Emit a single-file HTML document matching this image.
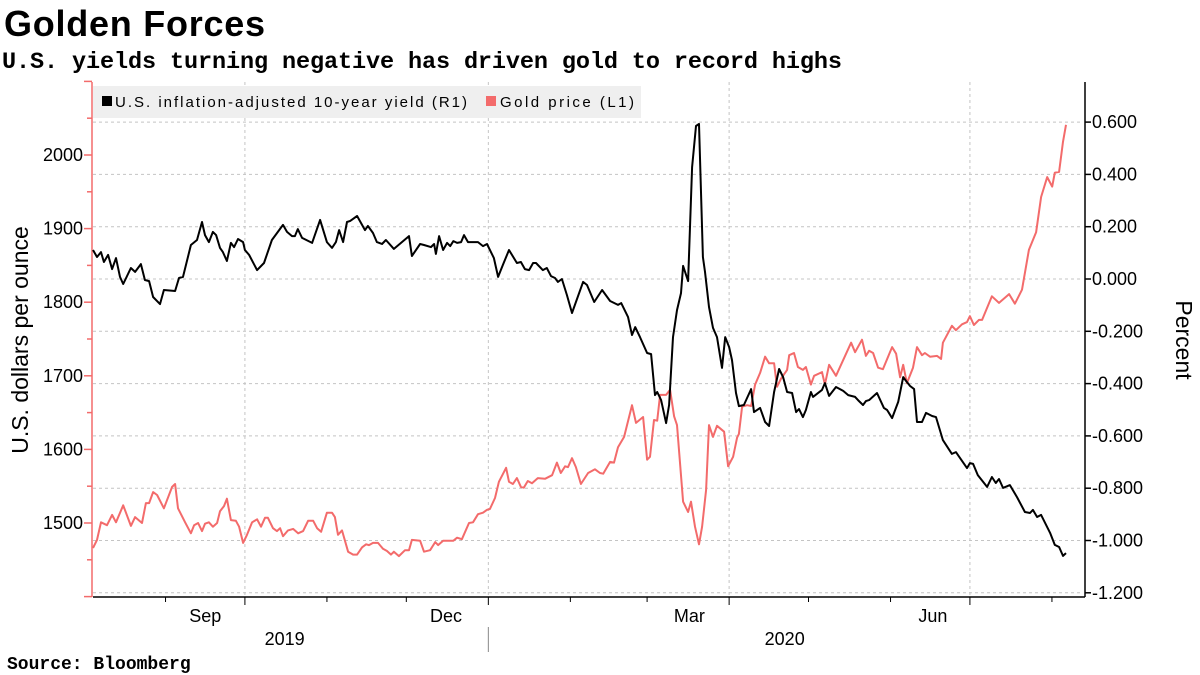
<!DOCTYPE html>
<html><head><meta charset="utf-8"><style>
body{margin:0;background:#fff;width:1200px;height:675px;overflow:hidden;font-family:"Liberation Sans",sans-serif}
svg{position:absolute;left:0;top:0}
</style></head><body>
<svg id="chart" width="1200" height="675" viewBox="0 0 1200 675">
<text x="4" y="36" font-family="Liberation Sans" font-weight="bold" font-size="36" textLength="261" fill="#000">Golden Forces</text>
<text x="2" y="68" font-family="Liberation Mono,monospace" font-weight="bold" font-size="23.5" textLength="840" fill="#000">U.S. yields turning negative has driven gold to record highs</text>
<text x="7" y="669" font-family="Liberation Mono,monospace" font-weight="bold" font-size="18" fill="#000">Source: Bloomberg</text>
<g id="grid"></g><g id="axes"></g><g id="series"></g>
<g>
<rect x="93" y="86" width="548" height="32" fill="#efefef"/>
<rect x="102" y="96" width="10" height="10" fill="#000"/>
<text x="115" y="107" font-size="15" textLength="352" fill="#000">U.S. inflation-adjusted 10-year yield (R1)</text>
<rect x="486" y="96" width="10" height="10" fill="#f36b6b"/>
<text x="500" y="107" font-size="15" textLength="134" fill="#000">Gold price  (L1)</text>
</g>
<text transform="translate(28,340) rotate(-90)" text-anchor="middle" font-size="23" fill="#000">U.S. dollars per ounce</text>
<text transform="translate(1176,340) rotate(90)" text-anchor="middle" font-size="23" fill="#000">Percent</text>
</svg>
<script>
const yieldDays=[3.6,5.1,6.6,7.7,9.3,10.8,12.3,13.8,15,17.9,19.5,21.7,23.2,24.8,26.3,28.9,30.4,34.6,36.1,37.6,40.6,42.9,44.8,45.9,47.4,48.9,50.1,51.6,52.7,54.2,55.7,56.9,58.4,60.3,61,62.6,65.6,68.2,71.2,75.4,76.9,78.8,79.9,81,82.6,86.4,89.4,92,93.9,95.4,96.6,98.1,99.6,100.8,103.4,106.4,107.5,109.4,110.9,112.8,114.3,117.3,123,124.1,127.2,128.7,131.3,132.5,133.2,134.4,135.9,137.4,138.6,139.8,141.2,142.7,143.8,145.3,149.1,151,152.5,155.1,156.7,158.5,160.8,163.8,165.3,166.8,168.4,169.9,171,173.6,175.1,176.7,178.2,179.3,180.8,182.7,184.6,188.8,190.3,193,196,199,202,203.2,205.8,207.3,208.5,210.3,213,214.5,216,216.8,218.3,220.2,221.3,222.8,224.3,225.8,226.6,228.5,230,231.5,232.6,234.1,234.9,236.4,237.9,239.4,241.3,242.5,244,245.1,246.6,247.7,249.6,252.3,253.4,255.7,257.6,259.1,261,262.9,264.4,265.9,267.8,269.3,270.4,271.9,273,274.9,275.7,279.1,280.2,281.8,284.4,287.1,289,291.6,292.7,294.6,295.7,296.9,299.9,302.5,303.7,305.6,307.9,309.8,310.9,312.4,313.9,315,316.9,318.4,320.7,322.2,324.8,328.2,329.7,333.9,335,336.2,338,341.5,343.3,344.8,346,347.5,350.1,352.8,355.8,357.7,358.8,360.4,361.9,365.3,367.1,368.7,370.2,371.3];
const yieldValues=[0.111,0.084,0.103,0.065,0.092,0.038,0.080,0.008,-0.019,0.042,0.027,0.057,-0.004,-0.008,-0.069,-0.096,-0.042,-0.046,0.004,0.008,0.130,0.149,0.218,0.168,0.141,0.180,0.168,0.119,0.103,0.069,0.138,0.122,0.153,0.141,0.111,0.092,0.034,0.061,0.149,0.207,0.180,0.164,0.164,0.191,0.157,0.138,0.226,0.141,0.119,0.141,0.187,0.141,0.218,0.222,0.241,0.187,0.203,0.176,0.141,0.134,0.149,0.115,0.164,0.088,0.134,0.130,0.122,0.134,0.096,0.164,0.111,0.138,0.126,0.145,0.138,0.141,0.168,0.141,0.141,0.126,0.134,0.080,0.008,0.054,0.111,0.061,0.065,0.038,0.034,0.061,0.061,0.034,0.042,0.011,0.004,-0.011,0,-0.061,-0.130,-0.011,-0.023,-0.088,-0.042,-0.084,-0.099,-0.092,-0.145,-0.214,-0.184,-0.222,-0.283,-0.287,-0.444,-0.432,-0.463,-0.551,-0.482,-0.222,-0.119,-0.054,0.050,-0.008,0.428,0.585,0.593,0.084,0.027,-0.107,-0.187,-0.222,-0.340,-0.222,-0.260,-0.310,-0.436,-0.486,-0.482,-0.421,-0.509,-0.493,-0.547,-0.562,-0.432,-0.344,-0.375,-0.432,-0.436,-0.509,-0.497,-0.528,-0.501,-0.432,-0.451,-0.424,-0.398,-0.447,-0.413,-0.428,-0.444,-0.451,-0.463,-0.482,-0.467,-0.463,-0.436,-0.493,-0.501,-0.532,-0.470,-0.375,-0.390,-0.409,-0.421,-0.547,-0.547,-0.512,-0.524,-0.528,-0.616,-0.669,-0.662,-0.723,-0.704,-0.707,-0.750,-0.795,-0.757,-0.780,-0.765,-0.799,-0.788,-0.834,-0.891,-0.895,-0.883,-0.910,-0.902,-0.971,-1.017,-1.025,-1.059,-1.048];
const goldDays=[3.6,5.1,6.6,8.9,10.8,12.3,15,17.9,19.5,22.1,23.6,24.8,26.3,27.8,30.4,33.5,34.6,35.7,38.4,40.6,41.8,43.3,44.8,45.9,47.4,48.9,50.5,51.6,53.1,54.2,55.7,57.6,58.8,60.3,61.8,63.7,65.6,67.1,68.6,69.7,71.6,73.1,74.3,75.4,77.3,79.2,81.1,83,84.9,86.8,88.3,89.8,92,93.9,95,96.2,97.7,100,101.9,103.4,105.3,106.8,107.9,109.4,111.3,113.2,114.7,116.2,117.3,119.2,121.5,123,124.1,127.2,128.7,131,132.9,134,135.9,139.8,141.2,143,145.7,147.2,149.1,151,152.5,153.6,155.5,157,159.7,160.8,162.3,163.8,165.3,166.4,167.9,169.5,171.7,174.4,177.1,178.9,180.4,182,183.1,184.6,186.1,188,190.7,193.3,195.2,196.4,199,200.5,202,204.3,207.3,208.8,211.5,213,214.1,215.6,216.8,217.9,220.2,221.7,223.2,224.3,226.6,228.5,229.6,231.1,232.6,233.8,235.3,236.4,237.9,239.4,242.1,243.6,245.5,247,247.7,248.9,250.8,252.3,253.8,255.7,257.6,259.1,261,262.1,263.6,265.9,266.7,268.5,270,271.9,273,274.9,276.1,279.1,280.2,281.8,284.4,290.1,291.6,294.2,295.7,296.9,298.4,300.3,302.1,305.6,307.1,308.6,309.8,311.2,313.5,315,316.9,318,319.9,322.6,324.1,324.8,328.2,329.7,332,333.9,335,336.5,338.4,339.6,343.3,346,349.8,352,354.7,357.3,360,361.9,364.2,366.1,367.1,368.7,370.2,371.3];
const goldValues=[1466,1477,1501,1497,1511,1501,1524,1496,1508,1500,1527,1527,1542,1538,1520,1549,1553,1520,1501,1486,1497,1500,1489,1499,1501,1495,1500,1516,1523,1533,1504,1503,1495,1473,1484,1501,1505,1495,1507,1507,1493,1489,1493,1482,1490,1492,1486,1489,1503,1503,1493,1488,1514,1514,1508,1484,1490,1461,1457,1457,1467,1471,1470,1473,1473,1465,1462,1457,1461,1455,1463,1463,1477,1476,1461,1463,1474,1470,1476,1476,1480,1478,1500,1501,1512,1514,1518,1519,1534,1556,1575,1556,1553,1561,1549,1548,1557,1554,1561,1560,1565,1582,1568,1577,1576,1588,1576,1553,1568,1573,1568,1567,1583,1582,1603,1617,1660,1636,1644,1586,1590,1640,1639,1674,1674,1681,1645,1633,1529,1515,1529,1495,1471,1495,1545,1633,1617,1632,1624,1577,1590,1616,1621,1658,1660,1659,1688,1704,1726,1717,1717,1685,1696,1708,1728,1731,1712,1708,1712,1688,1700,1705,1688,1715,1700,1745,1732,1749,1727,1734,1731,1711,1709,1739,1730,1698,1715,1690,1711,1739,1728,1731,1726,1727,1723,1745,1768,1762,1770,1773,1781,1769,1776,1776,1808,1799,1811,1798,1817,1871,1895,1943,1970,1957,1976,1977,2018,2041];
const leftTicks=[1500,1600,1700,1800,1900,2000];
const rightTicks=[0.6,0.4,0.2,0,-0.2,-0.4,-0.6,-0.8,-1.0,-1.2];
const monthLabels=["Sep","Dec","Mar","Jun"];
const monthLabelDays=[46,137,229,321];
const monthTickDays=[31,61,92,122,153,184,213,244,274,305,335,366];
const majorTickDays=[61,153,244,335];
const yearLabels=["2019","2020"];
const yearLabelDays=[76,265];

const X0=93,X1=1083,Y0=82,Y1=597;
const xS=d=>83.5+d*2.646;
const yL=v=>155+(2000-v)*0.736;
const yR=v=>279-v*261.5;
const NS='http://www.w3.org/2000/svg';
function mk(tag,attrs,parent,txt){const e=document.createElementNS(NS,tag);for(const k in attrs)e.setAttribute(k,attrs[k]);if(txt!==undefined)e.textContent=txt;parent.appendChild(e);return e;}
const grid=document.getElementById('grid'),axes=document.getElementById('axes'),series=document.getElementById('series');
rightTicks.forEach(v=>{const y=yR(v);
 const g=mk('line',{x1:X0,x2:X1,y1:y,y2:y,stroke:'#c4c4c4','stroke-width':1,'stroke-dasharray':'3,3'},grid);
 
 
 const t=mk('line',{x1:X1+2,x2:X1+8,y1:y,y2:y,stroke:'#000','stroke-width':1.5},axes);
 
 
 const l=mk('text',{x:1092,y:y+6,'font-size':18,fill:'#000'},axes,v.toFixed(3));
 
 
});
majorTickDays.forEach(d=>{const x=xS(d);
 const g=mk('line',{x1:x,x2:x,y1:Y0,y2:Y1,stroke:'#c4c4c4','stroke-width':1,'stroke-dasharray':'3,3'},grid);
 
 
});
for(let v=1400;v<=2100;v+=50){const y=yL(v);const major=v%100===0;
 const t=mk('line',{x1:major?84:87,x2:92,y1:y,y2:y,stroke:'#f36b6b','stroke-width':1.5},axes);
 
 }
leftTicks.forEach(v=>{const l=mk('text',{x:83,y:yL(v)+6,'font-size':18,fill:'#000','text-anchor':'end'},axes,String(v));
 
 });
const la=mk('line',{x1:92,x2:92,y1:Y0,y2:Y1,stroke:'#f36b6b','stroke-width':1.5},axes);


const ra=mk('line',{x1:X1+2,x2:X1+2,y1:Y0,y2:Y1,stroke:'#000','stroke-width':1.5},axes);


const xa=mk('line',{x1:X0,x2:X1+2,y1:Y1,y2:Y1,stroke:'#000','stroke-width':1.5},axes);


monthTickDays.forEach(d=>{const x=xS(d);const major=majorTickDays.includes(d);
 const t=mk('line',{x1:x,x2:x,y1:Y1,y2:Y1+(major?8:5),stroke:'#000','stroke-width':1},axes);
 
 });
monthLabels.forEach((m,i)=>{const l=mk('text',{x:xS(monthLabelDays[i]),y:622,'font-size':18,fill:'#000','text-anchor':'middle'},axes,m);
 
 });
yearLabels.forEach((m,i)=>{const l=mk('text',{x:xS(yearLabelDays[i]),y:645,'font-size':18,fill:'#000','text-anchor':'middle'},axes,m);
 
 });
const sep=mk('line',{x1:xS(153),x2:xS(153),y1:627,y2:652,stroke:'#888','stroke-width':1},axes);


const gp=mk('path',{d:goldDays.map((d,i)=>(i?'L':'M')+xS(d).toFixed(1)+','+yL(goldValues[i]).toFixed(1)).join(''),fill:'none',stroke:'#f36b6b','stroke-width':2,'stroke-linejoin':'round'},series);


const yp=mk('path',{d:yieldDays.map((d,i)=>(i?'L':'M')+xS(d).toFixed(1)+','+yR(yieldValues[i]).toFixed(1)).join(''),fill:'none',stroke:'#000','stroke-width':2,'stroke-linejoin':'round'},series);


</script>
</body></html>
